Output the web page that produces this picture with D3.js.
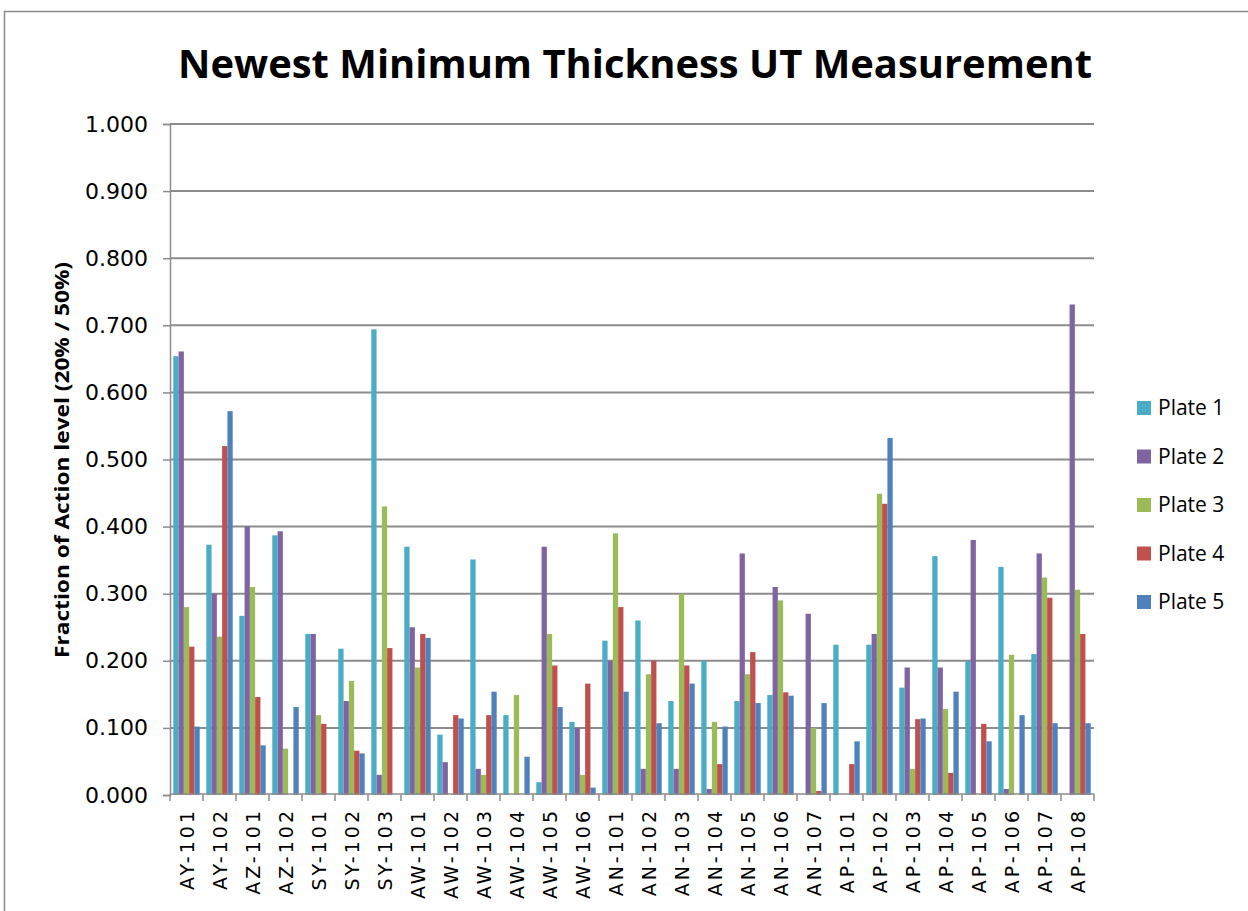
<!DOCTYPE html>
<html>
<head>
<meta charset="utf-8">
<script src="https://cdn.jsdelivr.net/npm/d3@7"></script>
<style>
  body { margin: 0; background: #fff; }
  svg { display: block; }
</style>
</head>
<body>
<svg id="chart" width="1248" height="911"></svg>
<script>
// Chart data
const categories = ["AY-101", "AY-102", "AZ-101", "AZ-102", "SY-101", "SY-102", "SY-103",
  "AW-101", "AW-102", "AW-103", "AW-104", "AW-105", "AW-106",
  "AN-101", "AN-102", "AN-103", "AN-104", "AN-105", "AN-106", "AN-107",
  "AP-101", "AP-102", "AP-103", "AP-104", "AP-105", "AP-106", "AP-107", "AP-108"];

const plate1 = [0.654, 0.373, 0.267, 0.387, 0.240, 0.218, 0.694,
  0.370, 0.090, 0.351, 0.119, 0.019, 0.109,
  0.230, 0.260, 0.140, 0.200, 0.140, 0.149, 0.000,
  0.224, 0.224, 0.160, 0.356, 0.200, 0.340, 0.210, 0.000];
const plate2 = [0.661, 0.300, 0.400, 0.393, 0.240, 0.140, 0.030,
  0.250, 0.049, 0.039, 0.000, 0.370, 0.100,
  0.200, 0.039, 0.039, 0.009, 0.360, 0.310, 0.270,
  0.000, 0.240, 0.190, 0.190, 0.380, 0.009, 0.360, 0.731];
const plate3 = [0.280, 0.236, 0.310, 0.069, 0.119, 0.170, 0.430,
  0.190, 0.000, 0.030, 0.149, 0.240, 0.030,
  0.390, 0.180, 0.300, 0.109, 0.180, 0.290, 0.100,
  0.000, 0.449, 0.039, 0.128, 0.000, 0.209, 0.324, 0.306];
const plate4 = [0.221, 0.520, 0.146, 0.000, 0.106, 0.066, 0.219,
  0.240, 0.119, 0.119, 0.000, 0.193, 0.166,
  0.280, 0.200, 0.193, 0.046, 0.213, 0.153, 0.006,
  0.046, 0.434, 0.113, 0.033, 0.106, 0.000, 0.294, 0.240];
const plate5 = [0.102, 0.572, 0.074, 0.131, 0.000, 0.062, 0.000,
  0.234, 0.114, 0.154, 0.057, 0.131, 0.011,
  0.154, 0.107, 0.166, 0.102, 0.137, 0.148, 0.137,
  0.080, 0.532, 0.114, 0.154, 0.080, 0.119, 0.107, 0.107];

const seriesNames = ["Plate 1", "Plate 2", "Plate 3", "Plate 4", "Plate 5"];
const seriesColors = ["#4BACC6", "#8064A2", "#9BBB59", "#C0504D", "#4F81BD"];
const yTicks = [0, 0.1, 0.2, 0.3, 0.4, 0.5, 0.6, 0.7, 0.8, 0.9, 1.0];

const series = [plate1, plate2, plate3, plate4, plate5];

const svg = d3.select("#chart");
const plot = { left: 170, right: 1094, top: 124, bottom: 795 };

// Outer chart frame (only top and left edges show)
svg.append("path")
  .attr("d", "M4.5,911 L4.5,11.5 L1248,11.5")
  .attr("fill", "none")
  .attr("stroke", "#8a8a8a")
  .attr("stroke-width", 1.5);

// Title
svg.append("text")
  .attr("x", 635)
  .attr("y", 78)
  .attr("text-anchor", "middle")
  .attr("font-family", "'Open Sans', sans-serif")
  .attr("font-weight", "bold")
  .attr("font-size", 40)
  .attr("textLength", 914)
  .attr("lengthAdjust", "spacingAndGlyphs")
  .text("Newest Minimum Thickness UT Measurement");

// Scales
const x0 = d3.scaleBand()
  .domain(categories)
  .range([plot.left, plot.right])
  .paddingInner(0)
  .paddingOuter(0);

const x1 = d3.scaleBand()
  .domain(seriesNames)
  .range([x0.bandwidth() * 0.1, x0.bandwidth() * 0.9]);

const y = d3.scaleLinear()
  .domain([0, 1])
  .range([plot.bottom, plot.top]);

// Gridlines
svg.append("g")
  .selectAll("line")
  .data(yTicks.filter(d => d > 0))
  .join("line")
  .attr("x1", plot.left)
  .attr("x2", plot.right)
  .attr("y1", d => y(d))
  .attr("y2", d => y(d))
  .attr("stroke", "#8c8c8c")
  .attr("stroke-width", 2);

// Y axis
const yAxis = svg.append("g")
  .attr("transform", `translate(${plot.left},0)`)
  .call(d3.axisLeft(y).tickValues(yTicks).tickFormat(d3.format(".3f")).tickSize(7).tickPadding(15));
yAxis.attr("font-family", null).attr("font-size", null);
yAxis.select(".domain").attr("stroke", "#8c8c8c").attr("stroke-width", 1.5);
yAxis.selectAll(".tick line").attr("stroke", "#8c8c8c").attr("stroke-width", 1.5);
yAxis.selectAll(".tick text")
  .attr("font-family", "'DejaVu Sans', sans-serif")
  .attr("font-size", 22)
  .attr("fill", "#000");

// Bars
const groups = svg.append("g")
  .selectAll("g")
  .data(categories)
  .join("g")
  .attr("transform", d => `translate(${x0(d)},0)`);

groups.selectAll("rect")
  .data((d, i) => seriesNames.map((s, k) => ({ s, k, v: series[k][i] })))
  .join("rect")
  .attr("x", d => x1(d.s))
  .attr("width", x1.bandwidth())
  .attr("y", d => y(d.v))
  .attr("height", d => y(0) - y(d.v))
  .attr("fill", d => seriesColors[d.k]);

// X axis with ticks between categories
const xAxisG = svg.append("g")
  .attr("transform", `translate(0,${plot.bottom - 1})`);
xAxisG.append("line")
  .attr("x1", plot.left)
  .attr("x2", plot.right)
  .attr("stroke", "#8c8c8c")
  .attr("stroke-width", 1.5);
xAxisG.selectAll(".xtick")
  .data(categories.concat(["end"]))
  .join("line")
  .attr("class", "xtick")
  .attr("x1", (d, i) => i < categories.length ? x0(d) : plot.right)
  .attr("x2", (d, i) => i < categories.length ? x0(d) : plot.right)
  .attr("y1", 0)
  .attr("y2", 7)
  .attr("stroke", "#8c8c8c")
  .attr("stroke-width", 1.5);

xAxisG.selectAll(".xlabel")
  .data(categories)
  .join("text")
  .attr("class", "xlabel")
  .attr("transform", d => `translate(${x0(d) + x0.bandwidth() / 2 + 7},14) rotate(-90)`)
  .attr("text-anchor", "end")
  .attr("font-family", "'DejaVu Sans', sans-serif")
  .attr("font-size", 19)
  .attr("letter-spacing", 3)
  .text(d => d);

// Y axis title
svg.append("text")
  .attr("transform", `translate(69,460) rotate(-90)`)
  .attr("text-anchor", "middle")
  .attr("font-family", "'Open Sans', sans-serif")
  .attr("font-weight", "bold")
  .attr("font-size", 19)
  .attr("textLength", 396)
  .attr("lengthAdjust", "spacingAndGlyphs")
  .text("Fraction of Action level (20% / 50%)");

// Legend
const legend = svg.append("g")
  .selectAll("g")
  .data(seriesNames)
  .join("g")
  .attr("transform", (d, i) => `translate(1137,${408 + i * 48.5})`);
legend.append("rect")
  .attr("x", 0)
  .attr("y", -7)
  .attr("width", 14)
  .attr("height", 14)
  .attr("fill", (d, i) => seriesColors[i]);
legend.append("text")
  .attr("x", 21)
  .attr("y", 0)
  .attr("dy", "0.35em")
  .attr("font-family", "'Open Sans', sans-serif")
  .attr("font-size", 21)
  .text(d => d);
</script>
</body>
</html>
